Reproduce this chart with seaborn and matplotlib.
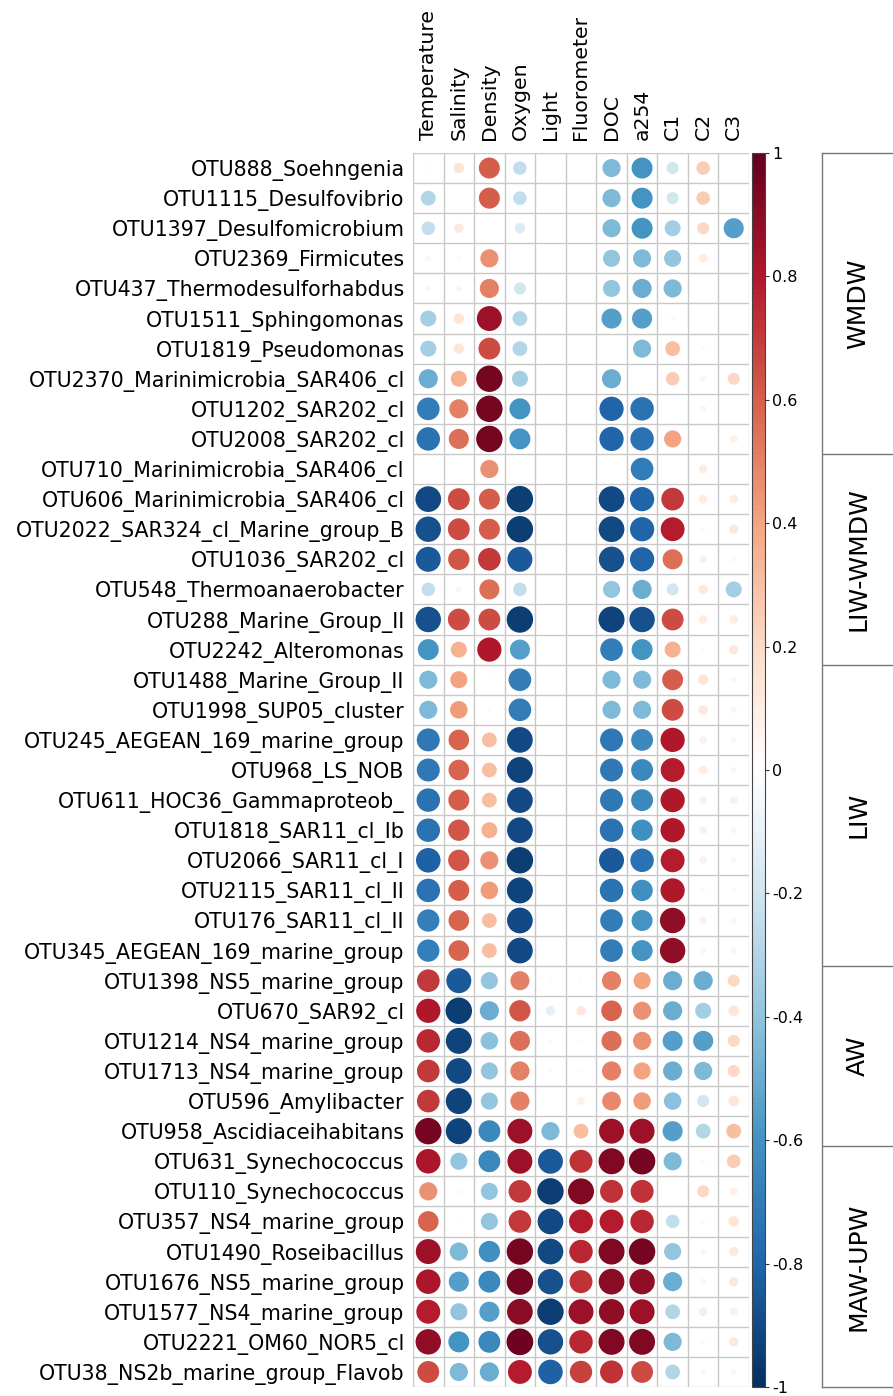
import numpy as np
import pandas as pd
import matplotlib
matplotlib.use("Agg")
import matplotlib.pyplot as plt
import matplotlib.colors as mcolors
import seaborn as sns

# ---------------- data ----------------
otus = [
    "OTU888_Soehngenia", "OTU1115_Desulfovibrio", "OTU1397_Desulfomicrobium",
    "OTU2369_Firmicutes", "OTU437_Thermodesulforhabdus", "OTU1511_Sphingomonas",
    "OTU1819_Pseudomonas", "OTU2370_Marinimicrobia_SAR406_cl", "OTU1202_SAR202_cl",
    "OTU2008_SAR202_cl", "OTU710_Marinimicrobia_SAR406_cl", "OTU606_Marinimicrobia_SAR406_cl",
    "OTU2022_SAR324_cl_Marine_group_B", "OTU1036_SAR202_cl", "OTU548_Thermoanaerobacter",
    "OTU288_Marine_Group_II", "OTU2242_Alteromonas", "OTU1488_Marine_Group_II",
    "OTU1998_SUP05_cluster", "OTU245_AEGEAN_169_marine_group", "OTU968_LS_NOB",
    "OTU611_HOC36_Gammaproteob_", "OTU1818_SAR11_cl_Ib", "OTU2066_SAR11_cl_I",
    "OTU2115_SAR11_cl_II", "OTU176_SAR11_cl_II", "OTU345_AEGEAN_169_marine_group",
    "OTU1398_NS5_marine_group", "OTU670_SAR92_cl", "OTU1214_NS4_marine_group",
    "OTU1713_NS4_marine_group", "OTU596_Amylibacter", "OTU958_Ascidiaceihabitans",
    "OTU631_Synechococcus", "OTU110_Synechococcus", "OTU357_NS4_marine_group",
    "OTU1490_Roseibacillus", "OTU1676_NS5_marine_group", "OTU1577_NS4_marine_group",
    "OTU2221_OM60_NOR5_cl", "OTU38_NS2b_marine_group_Flavob",
]

variables = ["Temperature", "Salinity", "Density", "Oxygen", "Light", "Fluorometer",
             "DOC", "a254", "C1", "C2", "C3"]

temperature = [0.02, -0.30, -0.25, -0.05, -0.05, -0.35, -0.35, -0.50, -0.70, -0.75, 0.0,
               -0.90, -0.88, -0.85, -0.25, -0.88, -0.60, -0.45, -0.45, -0.72, -0.72,
               -0.75, -0.75, -0.82, -0.75, -0.68, -0.68, 0.70, 0.80, 0.75, 0.70,
               0.70, 0.95, 0.82, 0.45, 0.58, 0.85, 0.82, 0.78, 0.88, 0.65]
salinity = [0.15, 0.0, 0.12, 0.03, 0.05, 0.15, 0.15, 0.35, 0.50, 0.55, 0.0,
            0.65, 0.65, 0.62, 0.05, 0.65, 0.35, 0.40, 0.42, 0.58, 0.58,
            0.60, 0.62, 0.62, 0.60, 0.58, 0.58, -0.85, -0.95, -0.92, -0.90,
            -0.92, -0.92, -0.40, 0.03, 0.02, -0.45, -0.55, -0.40, -0.60, -0.45]
density = [0.60, 0.60, 0.0, 0.45, 0.50, 0.85, 0.65, 0.95, 0.95, 0.95, 0.45,
           0.60, 0.60, 0.70, 0.55, 0.65, 0.80, 0.02, 0.02, 0.30, 0.30,
           0.30, 0.35, 0.45, 0.42, 0.30, 0.30, -0.40, -0.50, -0.42, -0.40,
           -0.40, -0.65, -0.65, -0.40, -0.40, -0.62, -0.65, -0.55, -0.65, -0.50]
oxygen = [-0.25, -0.25, -0.15, 0.0, -0.20, -0.30, -0.30, -0.35, -0.60, -0.60, 0.0,
          -0.95, -0.95, -0.85, -0.25, -0.95, -0.55, -0.70, -0.70, -0.90, -0.92,
          -0.90, -0.90, -0.95, -0.92, -0.90, -0.90, 0.50, 0.62, 0.55, 0.50,
          0.50, 0.85, 0.85, 0.70, 0.70, 0.95, 0.95, 0.90, 0.97, 0.78]
light = [0.0, 0.0, 0.0, 0.0, 0.0, 0.0, 0.0, 0.0, 0.0, 0.0, 0.0,
         0.0, 0.0, 0.0, 0.0, 0.0, 0.0, 0.0, 0.0, 0.0, 0.0,
         0.0, 0.0, 0.0, 0.0, 0.0, 0.0, -0.03, -0.12, 0.02, 0.02,
         0.0, -0.45, -0.85, -0.95, -0.90, -0.90, -0.88, -0.95, -0.88, -0.82]
fluorometer = [0.0, 0.0, 0.0, 0.0, 0.0, 0.0, 0.0, 0.0, 0.0, 0.0, 0.0,
               0.0, 0.0, 0.0, 0.0, 0.0, 0.0, 0.0, 0.0, 0.0, 0.0,
               0.0, 0.0, 0.0, 0.0, 0.0, 0.0, 0.02, 0.12, 0.02, 0.02,
               0.08, 0.30, 0.72, 0.92, 0.78, 0.75, 0.72, 0.85, 0.75, 0.68]
doc = [-0.45, -0.45, -0.45, -0.40, -0.40, -0.55, 0.0, -0.50, -0.80, -0.80, 0.0,
       -0.90, -0.90, -0.88, -0.40, -0.92, -0.70, -0.45, -0.45, -0.72, -0.72,
       -0.72, -0.75, -0.85, -0.75, -0.70, -0.70, 0.50, 0.58, 0.55, 0.50,
       0.48, 0.85, 0.92, 0.72, 0.78, 0.92, 0.90, 0.88, 0.92, 0.72]
a254 = [-0.60, -0.60, -0.60, -0.45, -0.50, -0.55, -0.45, 0.0, -0.75, -0.75, -0.70,
        -0.80, -0.80, -0.80, -0.50, -0.88, -0.60, -0.45, -0.45, -0.65, -0.65,
        -0.65, -0.62, -0.75, -0.62, -0.60, -0.60, 0.40, 0.45, 0.45, 0.40,
        0.42, 0.85, 0.95, 0.72, 0.75, 0.95, 0.88, 0.85, 0.92, 0.65]
c1 = [-0.20, -0.20, -0.35, -0.40, -0.45, 0.03, 0.30, 0.25, 0.0, 0.40, 0.0,
      0.70, 0.78, 0.55, -0.20, 0.65, 0.35, 0.60, 0.65, 0.80, 0.78,
      0.80, 0.80, 0.78, 0.80, 0.88, 0.88, -0.50, -0.50, -0.55, -0.50,
      -0.42, -0.55, -0.45, 0.0, -0.25, -0.40, -0.50, -0.30, -0.45, -0.30]
c2 = [0.25, 0.25, 0.20, 0.10, 0.0, 0.0, 0.03, 0.05, 0.05, 0.0, 0.10,
      0.10, 0.03, 0.08, 0.12, 0.10, 0.02, 0.15, 0.12, 0.08, 0.10,
      0.08, 0.08, 0.08, 0.03, 0.08, 0.05, -0.50, -0.35, -0.55, -0.45,
      -0.20, -0.30, 0.03, 0.20, 0.03, 0.05, 0.05, 0.10, 0.03, 0.04]
c3 = [0.0, 0.0, -0.55, 0.0, 0.0, 0.0, 0.0, 0.20, 0.0, 0.08, 0.0,
      0.10, 0.12, 0.03, -0.35, 0.10, 0.12, 0.05, 0.05, 0.05, 0.05,
      0.08, 0.05, 0.05, 0.03, 0.05, 0.05, 0.20, 0.15, 0.20, 0.20,
      0.15, 0.30, 0.25, 0.08, 0.15, 0.12, 0.12, 0.08, 0.12, 0.05]

group_names = ["WMDW", "LIW-WMDW", "LIW", "AW", "MAW-UPW"]
group_sizes = [10, 7, 10, 6, 8]

colorbar_ticks = [1, 0.8, 0.6, 0.4, 0.2, 0, -0.2, -0.4, -0.6, -0.8, -1]

# ---------------- build long table ----------------
columns = [temperature, salinity, density, oxygen, light, fluorometer,
           doc, a254, c1, c2, c3]
records = []
for j, (var, vals) in enumerate(zip(variables, columns)):
    for i, (otu, v) in enumerate(zip(otus, vals)):
        records.append({"otu": otu, "var": var, "xi": j, "yi": i,
                        "r": v, "absr": abs(v)})
df = pd.DataFrame(records)

# ---------------- style ----------------
sns.set_style("white")
plt.rcParams["font.family"] = ["DejaVu Sans"]
plt.rcParams["axes.unicode_minus"] = False
plt.rcParams["text.color"] = "black"
plt.rcParams["xtick.color"] = "black"
plt.rcParams["ytick.color"] = "black"
plt.rcParams["xtick.labelcolor"] = "black"
plt.rcParams["ytick.labelcolor"] = "black"

rdbu = ["#053061", "#2166AC", "#4393C3", "#92C5DE", "#D1E5F0", "#FFFFFF",
        "#FDDBC7", "#F4A582", "#D6604D", "#B2182B", "#67001F"]
cmap = mcolors.LinearSegmentedColormap.from_list("corr", rdbu, N=200)
norm = mcolors.Normalize(vmin=-1, vmax=1)

W, H = 893, 1396
fig = plt.figure(figsize=(W / 100, H / 100), dpi=100)

gx0, gx1 = 413, 749
gy0, gy1 = 153, 1387
ax = fig.add_axes([gx0 / W, 1 - gy1 / H, (gx1 - gx0) / W, (gy1 - gy0) / H])

cell_px = (gy1 - gy0) / len(otus)
smax = (0.9 * cell_px * 0.72) ** 2

sns.scatterplot(data=df, x="xi", y="yi", hue="r", size="absr",
                palette=cmap, hue_norm=norm, sizes=(0, smax), size_norm=(0, 1),
                linewidth=0, legend=False, ax=ax, zorder=3)

ax.set_xlim(-0.5, len(variables) - 0.5)
ax.set_ylim(len(otus) - 0.5, -0.5)

for k in range(len(variables) + 1):
    ax.axvline(k - 0.5, color="#C8C8C8", lw=1.0, zorder=1)
for k in range(len(otus) + 1):
    ax.axhline(k - 0.5, color="#C8C8C8", lw=1.0, zorder=1)
for s in ax.spines.values():
    s.set_visible(False)

ax.set_xticks(range(len(variables)))
ax.set_xticklabels(variables, rotation=90, fontsize=14.7, color="black")
ax.xaxis.tick_top()
ax.tick_params(axis="x", length=0, pad=9)
ax.set_yticks(range(len(otus)))
ax.set_yticklabels(otus, fontsize=14.8, color="black")
ax.tick_params(axis="y", length=0, pad=6)
ax.set_xlabel("")
ax.set_ylabel("")

# ---------------- colorbar ----------------
cax = fig.add_axes([752 / W, 1 - gy1 / H, 13 / W, (gy1 - gy0) / H])
sm = matplotlib.cm.ScalarMappable(norm=norm, cmap=cmap)
cb = fig.colorbar(sm, cax=cax, ticks=colorbar_ticks)
cb.ax.set_yticklabels([f"{t:g}" for t in colorbar_ticks], fontsize=11.5, color="black")
cb.ax.tick_params(length=3, width=0.8, color="#333333", pad=2)
cb.outline.set_linewidth(0.8)
cb.outline.set_edgecolor("#444444")

# ---------------- group boxes ----------------
gax = fig.add_axes([822 / W, 1 - gy1 / H, 90 / W, (gy1 - gy0) / H])
gax.set_xlim(0, 1)
gax.set_ylim(len(otus) - 0.5, -0.5)
gax.set_xticks([])
gax.set_yticks([])
for side in ["left", "top", "bottom"]:
    gax.spines[side].set_color("#777777")
    gax.spines[side].set_linewidth(1.0)
gax.spines["right"].set_visible(False)
start = 0
for name, n in zip(group_names, group_sizes):
    end = start + n
    if end < len(otus):
        gax.axhline(end - 0.5, color="#777777", lw=1.0)
    center = (start + end - 1) / 2
    gax.text(0.40, center, name, rotation=90, ha="center", va="center",
             fontsize=18, color="black")
    start = end

fig.savefig("out.png", dpi=100)
